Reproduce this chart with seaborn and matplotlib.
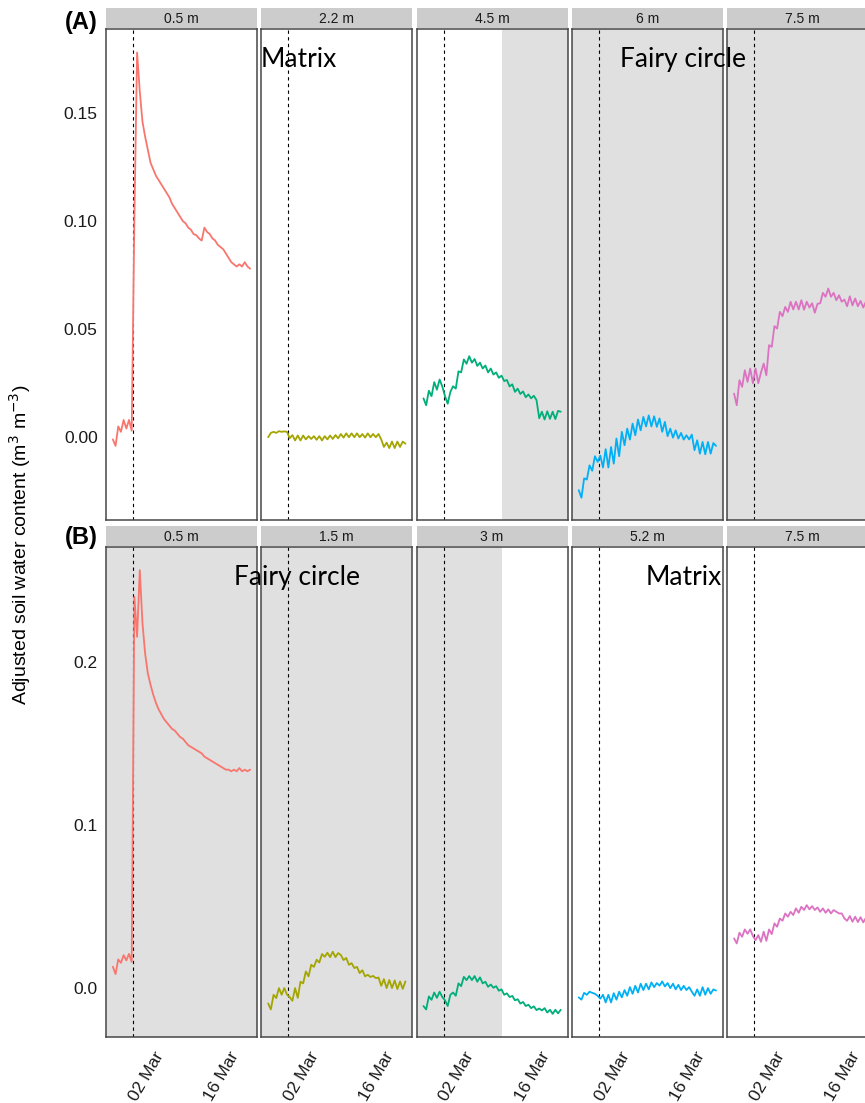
import pandas as pd
import numpy as np
import matplotlib
matplotlib.use('Agg')
import matplotlib.pyplot as plt
import matplotlib.dates as mdates
import seaborn as sns


# readings, twice a day
times = pd.date_range('2017-02-22 12:00', '2017-03-20 00:00', freq='12h')
rain_day = pd.Timestamp('2017-02-26 06:00')
shade_split = pd.Timestamp('2017-03-09')

# (A) transect starting in the matrix
depths_a = ['0.5 m', '2.2 m', '4.5 m', '6 m', '7.5 m']
a_05 = [-0.001, -0.004, 0.005, 0.0025, 0.008, 0.004, 0.008, 0.003,
        0.102, 0.178, 0.160, 0.146, 0.139, 0.133, 0.127, 0.124,
        0.121, 0.119, 0.117, 0.115, 0.113, 0.111, 0.108, 0.106,
        0.104, 0.102, 0.100, 0.099, 0.097, 0.096, 0.094, 0.0935,
        0.092, 0.091, 0.097, 0.095, 0.094, 0.092, 0.091, 0.089,
        0.088, 0.087, 0.085, 0.083, 0.081, 0.080, 0.079, 0.080,
        0.079, 0.081, 0.079, 0.078]
a_22 = [0.000, 0.002, 0.0025, 0.002, 0.0028, 0.0025, 0.0027, 0.0025,
        -0.0005, 0.001, -0.0015, 0.0008, -0.0015, 0.0008, -0.001, 0.0005,
        -0.0008, 0.0005, -0.0012, 0.0005, -0.0015, 0.0005, -0.001, 0.0008,
        -0.0008, 0.001, -0.0005, 0.0015, -0.0002, 0.0018, 0.0, 0.0018,
        0.0, 0.0018, 0.0, 0.0015, -0.0002, 0.0018, 0.0, 0.0015,
        0.0, 0.0015, -0.001, -0.0045, -0.0025, -0.005, -0.002, -0.005,
        -0.002, -0.0045, -0.002, -0.003]
a_45 = [0.018, 0.0148, 0.0215, 0.019, 0.0255, 0.022, 0.0267, 0.0235,
        0.019, 0.0155, 0.021, 0.0236, 0.0225, 0.0305, 0.030, 0.036,
        0.034, 0.0375, 0.0345, 0.0362, 0.033, 0.0345, 0.0318, 0.0332,
        0.030, 0.0318, 0.029, 0.030, 0.0275, 0.0285, 0.026, 0.0265,
        0.0235, 0.0245, 0.021, 0.0225, 0.020, 0.0212, 0.0185, 0.0198,
        0.018, 0.0192, 0.0172, 0.0088, 0.0118, 0.0082, 0.012, 0.0085,
        0.0118, 0.0084, 0.0122, 0.0118]
a_60 = [-0.0245, -0.028, -0.019, -0.0196, -0.013, -0.0155, -0.0088, -0.0114,
        -0.0085, -0.014, -0.0055, -0.014, -0.0045, -0.0122, -0.0006, -0.0088,
        0.0025, -0.0037, 0.004, -0.0011, 0.0063, 0.0009, 0.0082, 0.0032,
        0.0094, 0.005, 0.0101, 0.005, 0.0097, 0.0048, 0.0087, 0.0025,
        0.0071, 0.0005, 0.004, -0.0002, 0.0032, -0.0006, 0.002, -0.0011,
        0.0009, -0.001, 0.0012, -0.006, -0.0014, -0.0076, -0.0022, -0.0079,
        -0.0022, -0.0076, -0.0027, -0.004]
a_75 = [0.0202, 0.0148, 0.0264, 0.0233, 0.031, 0.0256, 0.0318, 0.025,
        0.0318, 0.025, 0.030, 0.0341, 0.0287, 0.0426, 0.0418, 0.0514,
        0.0503, 0.058, 0.056, 0.0603, 0.058, 0.0627, 0.0591, 0.0627,
        0.0591, 0.0634, 0.059, 0.0627, 0.060, 0.062, 0.0576, 0.0617,
        0.062, 0.0668, 0.065, 0.0688, 0.065, 0.0668, 0.0634, 0.0657,
        0.0627, 0.0637, 0.0606, 0.0652, 0.061, 0.0642, 0.0606, 0.0631,
        0.060, 0.0628, 0.0598, 0.0615]

# (B) transect starting in the fairy circle
depths_b = ['0.5 m', '1.5 m', '3 m', '5.2 m', '7.5 m']
b_05 = [0.0131, 0.0086, 0.0176, 0.0155, 0.0202, 0.017, 0.021, 0.016,
        0.240, 0.2155, 0.2564, 0.224, 0.205, 0.193, 0.186, 0.180,
        0.175, 0.171, 0.168, 0.165, 0.163, 0.161, 0.159, 0.158,
        0.156, 0.154, 0.153, 0.151, 0.149, 0.148, 0.147, 0.146,
        0.145, 0.144, 0.142, 0.141, 0.140, 0.139, 0.138, 0.137,
        0.136, 0.135, 0.134, 0.134, 0.133, 0.134, 0.133, 0.135,
        0.133, 0.134, 0.133, 0.134]
b_15 = [-0.0094, -0.0131, -0.0041, -0.0061, 0.0, -0.0041, 0.0, -0.004,
        -0.0055, -0.0078, 0.0, -0.006, 0.0039, 0.0029, 0.0102, 0.0072,
        0.0143, 0.013, 0.0174, 0.0157, 0.0209, 0.0192, 0.0217, 0.019,
        0.0223, 0.019, 0.0215, 0.0203, 0.0172, 0.0185, 0.0143, 0.0153,
        0.0123, 0.013, 0.0092, 0.011, 0.0072, 0.0082, 0.0068, 0.0075,
        0.0061, 0.0065, 0.0014, 0.0055, 0.0, 0.005, 0.0, 0.0047,
        -0.0006, 0.0041, -0.0005, 0.0041]
b_30 = [-0.011, -0.0131, -0.0051, -0.0072, -0.0027, -0.006, -0.0022, -0.0055,
        -0.0075, -0.011, -0.0041, -0.0027, -0.0047, 0.0029, 0.0012, 0.0069,
        0.0049, 0.0074, 0.0049, 0.0074, 0.0039, 0.0066, 0.0029, 0.0039,
        0.0008, 0.0022, 0.0002, 0.0012, -0.0016, -0.0008, -0.0041, -0.0032,
        -0.0055, -0.0048, -0.0075, -0.0068, -0.0095, -0.0085, -0.011, -0.0102,
        -0.0123, -0.0112, -0.0135, -0.0125, -0.0137, -0.0123, -0.015, -0.0133,
        -0.0158, -0.0133, -0.0155, -0.0133]
b_52 = [-0.0057, -0.0071, -0.0029, -0.0041, -0.0022, -0.0029, -0.0035, -0.0047,
        -0.0065, -0.0041, -0.0088, -0.0041, -0.0088, -0.0031, -0.0071, -0.0022,
        -0.0057, -0.0012, -0.0047, 0.0006, -0.0035, 0.0014, -0.0027, 0.0027,
        -0.0012, 0.0027, -0.0008, 0.0035, 0.0006, 0.0031, 0.0015, 0.0041,
        0.001, 0.0031, 0.0, 0.0027, -0.0008, 0.002, -0.0012, 0.0014,
        -0.0012, 0.0006, -0.0022, -0.0047, -0.0008, -0.0047, 0.0006, -0.0041,
        0.0, -0.0035, -0.0008, -0.0015]
b_75 = [0.0305, 0.0274, 0.034, 0.0315, 0.036, 0.0333, 0.036, 0.0319,
        0.0294, 0.0325, 0.0284, 0.0346, 0.029, 0.036, 0.0331, 0.0397,
        0.0376, 0.0427, 0.0413, 0.0458, 0.0438, 0.0468, 0.0448, 0.0489,
        0.0462, 0.0499, 0.0479, 0.0509, 0.0483, 0.0503, 0.0479, 0.0495,
        0.0468, 0.0489, 0.0462, 0.0483, 0.0458, 0.0479, 0.0468, 0.0458,
        0.0458, 0.0427, 0.0413, 0.0442, 0.0407, 0.0438, 0.0405, 0.0435,
        0.0403, 0.0432, 0.0402, 0.043]

yticks_a = [0.00, 0.05, 0.10, 0.15]
yticks_b = [0.0, 0.1, 0.2]


sns.set_style('white')
plt.rcParams['font.family'] = ['Liberation Sans', 'DejaVu Sans']
plt.rcParams['text.color'] = 'black'
plt.rcParams['xtick.labelcolor'] = '#1A1A1A'
plt.rcParams['ytick.labelcolor'] = '#1A1A1A'

colors = ['#F8766D', '#A3A500', '#00AE7A', '#00B0F6', '#DC72C2']
shade_col = '#E0E0E0'
border_col = '#474747'

fig = plt.figure(figsize=(8.65, 11.03), dpi=100)
W, H = 865, 1103

lefts = [106, 261.3, 416.6, 571.9, 727.2]
pw = 151

t0 = pd.Timestamp('2017-03-02')
xlim = (t0 - pd.Timedelta(days=8.775), t0 + pd.Timedelta(days=19.275))

rows = [
    dict(series=[a_05, a_22, a_45, a_60, a_75], depths=depths_a,
         shade=['none', 'none', 'late', 'full', 'full'],
         top=29, bottom=520, strip=8, ylim=(-0.0383, 0.1889),
         yticks=yticks_a, fmt='{:.2f}', labels=False),
    dict(series=[b_05, b_15, b_30, b_52, b_75], depths=depths_b,
         shade=['full', 'full', 'early', 'none', 'none'],
         top=547, bottom=1037, strip=526, ylim=(-0.030, 0.2706),
         yticks=yticks_b, fmt='{:.1f}', labels=True),
]

for row in rows:
    for j in range(5):
        ax = fig.add_axes([lefts[j] / W, 1 - row['bottom'] / H,
                           pw / W, (row['bottom'] - row['top']) / H])
        kind = row['shade'][j]
        if kind == 'full':
            ax.set_facecolor(shade_col)
        elif kind == 'late':
            ax.axvspan(shade_split, xlim[1], color=shade_col, lw=0, zorder=0)
        elif kind == 'early':
            ax.axvspan(xlim[0], shade_split, color=shade_col, lw=0, zorder=0)

        df = pd.DataFrame({'time': times, 'value': row['series'][j]})
        sns.lineplot(data=df, x='time', y='value', color=colors[j],
                     lw=1.3, ax=ax, zorder=3)
        ax.axvline(rain_day, color='black', lw=0.8, dashes=(3, 3), zorder=2)

        ax.set_xlim(xlim)
        ax.set_ylim(row['ylim'])
        ax.set_xlabel('')
        ax.set_ylabel('')
        ax.xaxis.set_major_locator(mdates.DayLocator(bymonthday=[2, 16]))
        ax.xaxis.set_major_formatter(mdates.DateFormatter('%d %b'))
        ax.tick_params(axis='x', direction='in', length=4, width=1,
                       color='#333333', labelsize=12.5, pad=9)
        if row['labels']:
            for lab in ax.get_xticklabels():
                lab.set_rotation(60)
                lab.set_ha('right')
                lab.set_va('top')
                lab.set_rotation_mode('anchor')
        else:
            ax.tick_params(axis='x', labelbottom=False)

        if j == 0:
            ax.set_yticks(row['yticks'])
            ax.set_yticklabels([row['fmt'].format(v) for v in row['yticks']])
            ax.tick_params(axis='y', direction='inout', length=6, width=1,
                           color='#333333', labelsize=12.5, pad=3)
        else:
            ax.set_yticks([])
        for sp in ax.spines.values():
            sp.set_color(border_col)
            sp.set_linewidth(1.1)
            sp.set_visible(True)

        # strip on top of each panel
        sax = fig.add_axes([lefts[j] / W, 1 - (row['strip'] + 20) / H,
                            pw / W, 20 / H])
        sax.set_facecolor('#CCCCCC')
        sax.set_xticks([])
        sax.set_yticks([])
        for sp in sax.spines.values():
            sp.set_visible(False)
        sax.text(0.5, 0.45, row['depths'][j], ha='center', va='center',
                 fontsize=10, color='#1A1A1A')

fig.text(98 / W, 1 - 22.5 / H, '(A)', ha='right', va='center',
         fontsize=17, fontweight='bold')
fig.text(98 / W, 1 - 537 / H, '(B)', ha='right', va='center',
         fontsize=17, fontweight='bold')

zone_font = ['Lato', 'DejaVu Sans']
fig.text(299 / W, 1 - 67 / H, 'Matrix', ha='center', va='baseline',
         fontsize=19, family=zone_font)
fig.text(683 / W, 1 - 67 / H, 'Fairy circle', ha='center', va='baseline',
         fontsize=19, family=zone_font)
fig.text(297 / W, 1 - 585 / H, 'Fairy circle', ha='center', va='baseline',
         fontsize=19, family=zone_font)
fig.text(684 / W, 1 - 585 / H, 'Matrix', ha='center', va='baseline',
         fontsize=19, family=zone_font)

fig.text(20 / W, 1 - 545 / H,
         'Adjusted soil water content (m$^{3}$ m$^{-3}$)',
         rotation=90, ha='center', va='center', fontsize=14)

fig.savefig('out.png', dpi=100)
